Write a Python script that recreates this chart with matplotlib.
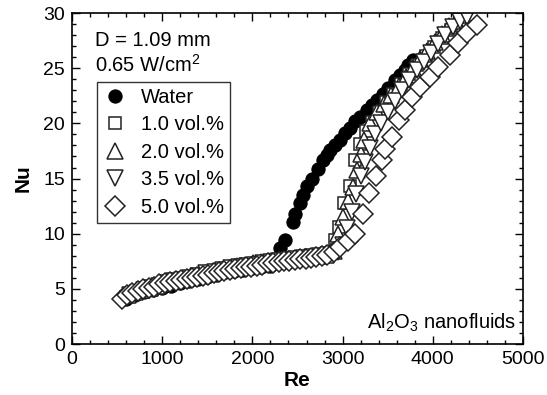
import matplotlib
matplotlib.use('Agg')
import matplotlib.pyplot as plt
from matplotlib.ticker import MultipleLocator

plt.rcParams['font.family'] = ['Liberation Sans', 'DejaVu Sans']
plt.rcParams['mathtext.fontset'] = 'custom'
plt.rcParams['mathtext.rm'] = 'Liberation Sans'
plt.rcParams['mathtext.default'] = 'regular'

# Water (laminar part sits under the nanofluid markers)
water_re = [600, 700, 800, 900, 1000, 1100, 1200, 1300, 1400, 1500, 1600, 1700, 1800,
            1900, 2000, 2100, 2200, 2306, 2361, 2454, 2472, 2528, 2565, 2605, 2657,
            2731, 2786, 2824, 2860, 2916, 2971, 3027, 3082, 3137, 3193, 3267, 3330,
            3378, 3452, 3507, 3581, 3636, 3692, 3729, 3784]
water_nu = [4.1, 4.4, 4.7, 4.9, 5.1, 5.3, 5.5, 5.7, 5.9, 6.1, 6.3, 6.5, 6.6,
            6.7, 6.9, 7.0, 7.1, 8.7, 9.4, 11.1, 11.8, 12.8, 13.5, 14.3, 15.0,
            15.9, 16.7, 17.1, 17.6, 18.0, 18.5, 19.1, 19.6, 20.2, 20.6, 21.2, 21.7,
            22.1, 22.7, 23.2, 23.9, 24.4, 24.8, 25.3, 25.7]

# 1.0 vol.%
v10_re = [600, 680, 760, 840, 920, 1000, 1090, 1180, 1270, 1360, 1450, 1540, 1630,
          1720, 1810, 1900, 1990, 2080, 2170, 2260, 2350, 2440, 2530, 2620, 2710,
          2800, 2880, 2920, 2960, 3020, 3080, 3140, 3190, 3260, 3330, 3400, 3480,
          3560, 3650, 3740, 3830, 3920, 4010, 4100, 4200, 4300]
v10_nu = [4.3, 4.6, 4.8, 5.0, 5.2, 5.4, 5.6, 5.8, 5.9, 6.1, 6.3, 6.5, 6.6,
          6.8, 7.0, 7.1, 7.2, 7.3, 7.4, 7.5, 7.6, 7.6, 7.7, 7.8, 7.9,
          8.1, 8.3, 9.4, 10.6, 12.8, 14.3, 16.7, 18.1, 19.3, 20.1, 21.0, 21.9,
          22.7, 23.6, 24.5, 25.3, 26.1, 26.9, 27.7, 28.5, 29.3]

# 2.0 vol.%
v20_re = [620, 700, 780, 860, 940, 1020, 1110, 1200, 1290, 1380, 1470, 1560, 1650,
          1740, 1830, 1920, 2010, 2100, 2190, 2280, 2370, 2460, 2550, 2640, 2730,
          2820, 2900, 2950, 3000, 3060, 3110, 3160, 3200, 3240, 3300, 3380, 3460,
          3540, 3620, 3700, 3780, 3860, 3940, 4020, 4100, 4180, 4260, 4340]
v20_nu = [4.4, 4.7, 4.9, 5.1, 5.3, 5.5, 5.7, 5.9, 6.0, 6.2, 6.4, 6.6, 6.7,
          6.9, 7.1, 7.2, 7.3, 7.4, 7.5, 7.6, 7.7, 7.7, 7.8, 7.9, 8.0,
          8.1, 8.4, 10.0, 11.5, 13.0, 14.2, 15.8, 17.2, 18.5, 20.0, 21.0, 21.8,
          22.6, 23.4, 24.2, 25.0, 25.8, 26.6, 27.4, 28.1, 28.8, 29.3, 29.8]

# 3.5 vol.%
v35_re = [640, 720, 800, 880, 960, 1040, 1130, 1220, 1310, 1400, 1490, 1580, 1670,
          1760, 1850, 1940, 2030, 2120, 2210, 2300, 2390, 2480, 2570, 2660, 2750,
          2840, 2950, 3000, 3050, 3100, 3150, 3200, 3250, 3300, 3360, 3430, 3500,
          3580, 3660, 3740, 3820, 3900, 3980, 4060, 4140, 4220, 4300, 4380]
v35_nu = [4.4, 4.6, 4.9, 5.1, 5.3, 5.5, 5.7, 5.8, 6.0, 6.2, 6.4, 6.5, 6.7,
          6.9, 7.0, 7.1, 7.2, 7.3, 7.4, 7.5, 7.6, 7.7, 7.8, 7.9, 8.0,
          8.1, 8.3, 9.0, 10.5, 12.0, 13.6, 15.2, 16.5, 17.8, 19.0, 20.0, 21.0,
          22.0, 23.0, 23.9, 24.8, 25.6, 26.4, 27.2, 28.0, 28.7, 29.3, 29.6]

# 5.0 vol.%
v50_re = [550, 610, 670, 730, 790, 850, 910, 970, 1030, 1090, 1150, 1210, 1270,
          1330, 1390, 1450, 1510, 1570, 1630, 1690, 1750, 1810, 1870, 1930, 1990,
          2050, 2110, 2170, 2230, 2290, 2350, 2410, 2470, 2530, 2590, 2650, 2710,
          2770, 2830, 2900, 2970, 3060, 3140, 3230, 3290, 3370, 3434, 3470, 3545,
          3620, 3690, 3770, 3860, 3970, 4060, 4190, 4280, 4380, 4490]
v50_nu = [4.1, 4.4, 4.6, 4.8, 5.0, 5.1, 5.2, 5.4, 5.5, 5.6, 5.7, 5.8, 5.9,
          6.0, 6.1, 6.2, 6.3, 6.4, 6.5, 6.6, 6.7, 6.8, 6.9, 7.0, 7.0,
          7.1, 7.2, 7.3, 7.3, 7.4, 7.5, 7.5, 7.6, 7.7, 7.7, 7.8, 7.9,
          8.0, 8.1, 8.3, 8.8, 9.3, 10.0, 11.8, 13.7, 15.2, 16.7, 17.7, 18.8,
          20.3, 21.2, 22.4, 23.3, 24.2, 25.1, 26.2, 27.3, 28.2, 28.9]

fig = plt.figure(figsize=(5.47, 3.95), dpi=100)
ax = fig.add_axes([0.1316, 0.129, 0.8245, 0.838])

ax.plot(water_re, water_nu, 'o', ms=9.5, mfc='black', mec='black', mew=0.8, label='Water', ls='none')
ax.plot(v10_re, v10_nu, 's', ms=9, mfc='white', mec='#222222', mew=1.1, label='1.0 vol.%', ls='none')
ax.plot(v20_re, v20_nu, '^', ms=11, mfc='white', mec='#222222', mew=1.1, label='2.0 vol.%', ls='none')
ax.plot(v35_re, v35_nu, 'v', ms=11, mfc='white', mec='#222222', mew=1.1, label='3.5 vol.%', ls='none')
ax.plot(v50_re, v50_nu, 'D', ms=10.5, mfc='white', mec='#222222', mew=1.1, label='5.0 vol.%', ls='none')

ax.set_xlim(0, 5000)
ax.set_ylim(0, 30)
ax.xaxis.set_major_locator(MultipleLocator(1000))
ax.xaxis.set_minor_locator(MultipleLocator(200))
ax.yaxis.set_major_locator(MultipleLocator(5))
ax.yaxis.set_minor_locator(MultipleLocator(1))
ax.tick_params(which='both', direction='in', top=True, right=True, labelsize=14, width=1)
ax.tick_params(which='major', length=6, pad=5)
ax.tick_params(which='minor', length=3)
for s in ax.spines.values():
    s.set_linewidth(1.2)

ax.set_xlabel('Re', fontsize=15, fontweight='bold', labelpad=2)
ax.set_ylabel('Nu', fontsize=15, fontweight='bold', labelpad=8)

ax.text(0.05, 0.945, 'D = 1.09 mm\n0.65 W/cm$^2$', transform=ax.transAxes, fontsize=14.5,
        va='top', ha='left', linespacing=1.2)
ax.text(0.985, 0.03, r'Al$_2$O$_3$ nanofluids', transform=ax.transAxes, fontsize=14.5,
        va='bottom', ha='right')

leg = ax.legend(loc='upper left', bbox_to_anchor=(97 / 547, 1 - 82 / 395),
                bbox_transform=fig.transFigure, fontsize=14.5, frameon=True, fancybox=False,
                borderpad=0.3, handlelength=1.2, handletextpad=0.7, labelspacing=0.42,
                borderaxespad=0)
leg.get_frame().set_edgecolor('black')
leg.get_frame().set_linewidth(1.0)

fig.savefig('out.png', dpi=100)
